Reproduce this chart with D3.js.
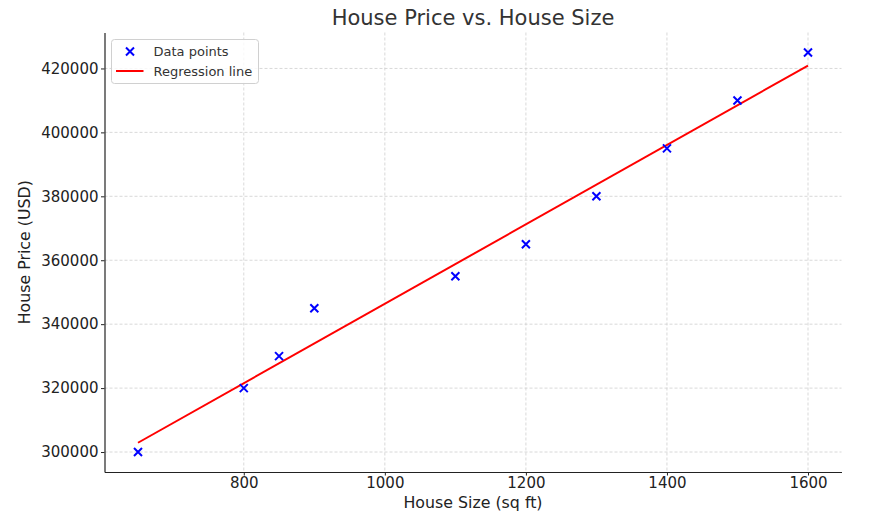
<!DOCTYPE html>
<html>
<head>
<meta charset="utf-8">
<script src="https://cdn.jsdelivr.net/npm/d3@7"></script>
<style>
  body { margin: 0; background: #fff; }
  svg { font-family: "DejaVu Sans", sans-serif; }
</style>
</head>
<body>
<div id="chart"></div>
<script>
// data
const sizes = [650, 800, 850, 900, 1100, 1200, 1300, 1400, 1500, 1600];
const prices = [300000, 320000, 330000, 345000, 355000, 365000, 380000, 395000, 410000, 425000];
const regressionX = [650, 1600];
const regressionY = [302900, 420900];
const xTicks = [800, 1000, 1200, 1400, 1600];
const yTicks = [300000, 320000, 340000, 360000, 380000, 400000, 420000];

const W = 871, H = 527;
const margin = { top: 32.5, right: 29.5, bottom: 55, left: 104.5 };
const width = W - margin.left - margin.right;
const height = H - margin.top - margin.bottom;

const svg = d3.select("#chart").append("svg")
  .attr("width", W).attr("height", H);

const g = svg.append("g")
  .attr("transform", `translate(${margin.left}, ${margin.top})`);

// domains with matplotlib-like 5% padding
const x = d3.scaleLinear().domain([602.5, 1647.5]).range([0, width]);
const y = d3.scaleLinear().domain([293750, 431250]).range([height, 0]);

// grid
g.append("g").selectAll("line").data(xTicks).enter().append("line")
  .attr("x1", d => x(d)).attr("x2", d => x(d))
  .attr("y1", 0).attr("y2", height)
  .attr("stroke", "#cfcfcf").attr("stroke-width", 0.8)
  .attr("stroke-dasharray", "3,2");
g.append("g").selectAll("line").data(yTicks).enter().append("line")
  .attr("x1", 0).attr("x2", width)
  .attr("y1", d => y(d)).attr("y2", d => y(d))
  .attr("stroke", "#cfcfcf").attr("stroke-width", 0.8)
  .attr("stroke-dasharray", "3,2");

// axes
const xAxis = g.append("g")
  .attr("transform", `translate(0, ${height})`)
  .call(d3.axisBottom(x).tickValues(xTicks).tickSize(3.5).tickSizeOuter(0)
    .tickPadding(2).tickFormat(d3.format("d")));
const yAxis = g.append("g")
  .call(d3.axisLeft(y).tickValues(yTicks).tickSize(3.5).tickSizeOuter(0)
    .tickPadding(2.5).tickFormat(d3.format("d")));

[xAxis, yAxis].forEach(a => {
  a.select(".domain").attr("stroke", "#222").attr("stroke-width", 1.2);
  a.selectAll(".tick line").attr("stroke", "#222").attr("stroke-width", 1);
  a.selectAll(".tick text").attr("fill", "#222")
    .style("font-size", "15px").style("font-family", "DejaVu Sans, sans-serif");
});

// regression line
const line = d3.line().x(d => x(d[0])).y(d => y(d[1]));
g.append("path")
  .datum(regressionX.map((v, i) => [v, regressionY[i]]))
  .attr("d", line)
  .attr("fill", "none")
  .attr("stroke", "#ff0000")
  .attr("stroke-width", 2);

// data points as x markers
const s = 4;
const pts = g.append("g").selectAll("g").data(sizes).enter().append("g")
  .attr("transform", (d, i) => `translate(${x(d)}, ${y(prices[i])})`);
pts.append("path")
  .attr("d", `M${-s},${-s}L${s},${s}M${-s},${s}L${s},${-s}`)
  .attr("stroke", "#0000ff")
  .attr("stroke-width", 2)
  .attr("fill", "none");

// title and labels
svg.append("text")
  .attr("x", margin.left + width / 2).attr("y", 25)
  .attr("text-anchor", "middle")
  .style("font-size", "21px").attr("fill", "#333")
  .text("House Price vs. House Size");

svg.append("text")
  .attr("x", margin.left + width / 2).attr("y", 508)
  .attr("text-anchor", "middle")
  .style("font-size", "15.8px").attr("fill", "#222")
  .text("House Size (sq ft)");

svg.append("text")
  .attr("transform", `translate(30, ${margin.top + height / 2}) rotate(-90)`)
  .attr("text-anchor", "middle")
  .style("font-size", "15.8px").attr("fill", "#222")
  .text("House Price (USD)");

// legend
const lg = svg.append("g").attr("transform", "translate(111.5, 39.5)");
lg.append("rect")
  .attr("width", 147).attr("height", 44).attr("rx", 3)
  .attr("fill", "#fff").attr("fill-opacity", 0.8)
  .attr("stroke", "#d0d0d0");
lg.append("path")
  .attr("transform", "translate(18.5, 12)")
  .attr("d", `M${-s},${-s}L${s},${s}M${-s},${s}L${s},${-s}`)
  .attr("stroke", "#0000ff").attr("stroke-width", 2);
lg.append("line")
  .attr("x1", 4.5).attr("x2", 32).attr("y1", 31.5).attr("y2", 31.5)
  .attr("stroke", "#ff0000").attr("stroke-width", 2);
lg.append("text").attr("x", 42).attr("y", 16.5)
  .style("font-size", "13px").attr("fill", "#333").text("Data points");
lg.append("text").attr("x", 42).attr("y", 36)
  .style("font-size", "13px").attr("fill", "#333").text("Regression line");
</script>
</body>
</html>
